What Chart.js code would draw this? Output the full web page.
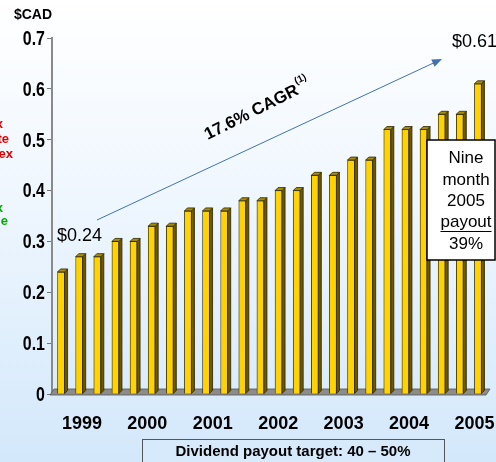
<!DOCTYPE html>
<html>
<head>
<meta charset="utf-8">
<script src="https://cdn.jsdelivr.net/npm/chart.js@4/dist/chart.umd.min.js"></script>
<style>
  html, body { margin: 0; padding: 0; }
  body { width: 496px; height: 462px; overflow: hidden;
         background: linear-gradient(#ffffff 0%, #eef6fe 45%, #d3e8fb 100%); }
  #wrap { position: relative; width: 496px; height: 462px; }
</style>
</head>
<body>
<div id="wrap"><canvas id="chart"></canvas></div>
<script>
// quarterly dividends, $CAD
const quarters = ["Q1 99", "Q2 99", "Q3 99", "Q4 99", "Q1 00", "Q2 00", "Q3 00", "Q4 00",
  "Q1 01", "Q2 01", "Q3 01", "Q4 01", "Q1 02", "Q2 02", "Q3 02", "Q4 02",
  "Q1 03", "Q2 03", "Q3 03", "Q4 03", "Q1 04", "Q2 04", "Q3 04", "Q4 05"];
const dividends = [0.24, 0.27, 0.27, 0.30, 0.30, 0.33, 0.33, 0.36, 0.36, 0.36, 0.38, 0.38,
  0.40, 0.40, 0.43, 0.43, 0.46, 0.46, 0.52, 0.52, 0.52, 0.55, 0.55, 0.61];
const years = ["1999", "2000", "2001", "2002", "2003", "2004", "2005"];
const yTicks = [0, 0.1, 0.2, 0.3, 0.4, 0.5, 0.6, 0.7];

const SANS = "'Liberation Sans', Arial, sans-serif";
const DEPTH = 3;

// floor under the bars + side/top faces of each bar
const bars3d = {
  id: "bars3d",
  beforeDatasetsDraw(chart) {
    const { ctx, chartArea: a } = chart;
    const base = chart.scales.y.getPixelForValue(0);
    ctx.save();
    ctx.beginPath();
    ctx.moveTo(a.left - 2, base + 1);
    ctx.lineTo(a.right - 1, base + 1);
    ctx.lineTo(a.right + 3, base - 5);
    ctx.lineTo(a.left + 2, base - 5);
    ctx.closePath();
    ctx.fillStyle = "#8c8c8c";
    ctx.fill();
    ctx.strokeStyle = "#555";
    ctx.lineWidth = 0.8;
    ctx.stroke();
    ctx.restore();
  },
  afterDatasetsDraw(chart) {
    const { ctx } = chart;
    ctx.save();
    ctx.lineWidth = 0.8;
    ctx.strokeStyle = "#2b2500";
    chart.getDatasetMeta(0).data.forEach(function (bar) {
      const l = bar.x - bar.width / 2, r = bar.x + bar.width / 2;
      // side
      ctx.beginPath();
      ctx.moveTo(r, bar.y);
      ctx.lineTo(r + DEPTH, bar.y - DEPTH);
      ctx.lineTo(r + DEPTH, bar.base - DEPTH);
      ctx.lineTo(r, bar.base);
      ctx.closePath();
      ctx.fillStyle = "#6b5800";
      ctx.fill();
      ctx.stroke();
      // top
      ctx.beginPath();
      ctx.moveTo(l, bar.y);
      ctx.lineTo(l + DEPTH, bar.y - DEPTH);
      ctx.lineTo(r + DEPTH, bar.y - DEPTH);
      ctx.lineTo(r, bar.y);
      ctx.closePath();
      ctx.fillStyle = "#a88d00";
      ctx.fill();
      ctx.stroke();
    });
    ctx.restore();
  },
};

// condensed value labels on the y axis
const yLabels = {
  id: "yLabels",
  afterDraw(chart) {
    const { ctx } = chart;
    const y = chart.scales.y;
    ctx.save();
    ctx.fillStyle = "#000";
    ctx.font = "bold 21px " + SANS;
    ctx.textAlign = "right";
    ctx.textBaseline = "middle";
    y.ticks.forEach(function (t) {
      const py = y.getPixelForValue(t.value);
      ctx.save();
      ctx.translate(y.right - 7, py + 1);
      ctx.scale(0.76, 1);
      ctx.fillText(t.value === 0 ? "0" : t.value.toFixed(1), 0, 0);
      ctx.restore();
    });
    ctx.restore();
  },
};

// text, arrow and boxes around the plot
const notes = {
  id: "notes",
  afterDraw(chart) {
    const ctx = chart.ctx;
    const first = dividends[0], last = dividends[dividends.length - 1];
    ctx.save();

    ctx.fillStyle = "#000";
    ctx.font = "bold 14px " + SANS;
    ctx.textAlign = "center";
    ctx.textBaseline = "middle";
    ctx.fillText("$CAD", 33, 15);

    // clipped side notes
    ctx.font = "bold 13px " + SANS;
    ctx.textAlign = "right";
    ctx.fillStyle = "#e00000";
    ctx.fillText("Index", 3, 124);
    ctx.fillText("Composite", 9, 139);
    ctx.fillText("Index", 13, 154);
    ctx.fillStyle = "#00a800";
    ctx.fillText("Index", 3, 208);
    ctx.fillText("Average", 8, 221);

    // growth arrow
    const x0 = 97, y0 = 220, x1 = 442, y1 = 59;
    const ang = Math.atan2(y1 - y0, x1 - x0);
    ctx.strokeStyle = "#3f73b0";
    ctx.fillStyle = "#3f73b0";
    ctx.lineWidth = 1;
    ctx.beginPath();
    ctx.moveTo(x0, y0);
    ctx.lineTo(x1 - 8 * Math.cos(ang), y1 - 8 * Math.sin(ang));
    ctx.stroke();
    ctx.beginPath();
    ctx.moveTo(x1, y1);
    ctx.lineTo(x1 - 10 * Math.cos(ang) + 4 * Math.sin(ang), y1 - 10 * Math.sin(ang) - 4 * Math.cos(ang));
    ctx.lineTo(x1 - 10 * Math.cos(ang) - 4 * Math.sin(ang), y1 - 10 * Math.sin(ang) + 4 * Math.cos(ang));
    ctx.closePath();
    ctx.fill();

    ctx.fillStyle = "#000";
    ctx.font = "18px " + SANS;
    ctx.textAlign = "left";
    ctx.fillText("$" + first.toFixed(2), 57, 236);
    ctx.fillText("$" + last.toFixed(2), 452, 42);

    // CAGR label
    ctx.save();
    ctx.translate(257, 110);
    ctx.rotate(ang - 0.03);
    ctx.font = "bold 17px " + SANS;
    const main = "17.6% CAGR";
    const w = ctx.measureText(main).width;
    ctx.textAlign = "left";
    ctx.fillText(main, -w / 2 - 6, 0);
    ctx.font = "bold 10px " + SANS;
    ctx.fillText("(1)", w / 2 - 5, -8);
    ctx.restore();

    // nine month box
    ctx.fillStyle = "#fff";
    ctx.fillRect(427, 140, 68, 120);
    ctx.strokeStyle = "#000";
    ctx.lineWidth = 1.5;
    ctx.strokeRect(427, 140, 68, 120);
    ctx.fillStyle = "#000";
    ctx.font = "17px " + SANS;
    ctx.textAlign = "center";
    const lines = ["Nine", "month", "2005", "payout", "39%"];
    const ys = [158, 180, 201, 222, 244];
    lines.forEach(function (t, i) { ctx.fillText(t, 466, ys[i]); });
    const pw = ctx.measureText("payout").width;
    ctx.lineWidth = 1;
    ctx.beginPath();
    ctx.moveTo(466 - pw / 2, 231.5);
    ctx.lineTo(466 + pw / 2, 231.5);
    ctx.stroke();

    // target box
    ctx.fillStyle = "#d6eafb";
    ctx.fillRect(142, 439, 302, 30);
    ctx.strokeStyle = "#555";
    ctx.strokeRect(142.5, 439.5, 302, 30);
    ctx.fillStyle = "#000";
    ctx.font = "bold 15px " + SANS;
    ctx.fillText("Dividend payout target: 40 \u2013 50%", 293, 452);

    ctx.restore();
  },
};

new Chart(document.getElementById("chart"), {
  type: "bar",
  data: {
    labels: quarters,
    datasets: [{
      data: dividends,
      backgroundColor: "#ffd300",
      borderColor: "#2b2500",
      borderWidth: 0.8,
      barThickness: 7,
    }],
  },
  options: {
    responsive: true,
    maintainAspectRatio: false,
    animation: false,
    layout: { padding: { top: 38, right: 9, left: 0, bottom: 0 } },
    plugins: { legend: { display: false }, tooltip: { enabled: false } },
    scales: {
      x: { display: false, offset: true },
      x2: {
        type: "linear",
        position: "bottom",
        offset: false,
        min: 0,
        max: 24,
        afterBuildTicks: function (s) {
          s.ticks = years.map(function (_, i) { return { value: 1.65 + i * 3.61 }; });
        },
        afterFit: function (s) {
          s.height = 68;
          s.paddingLeft = 0;
          s.paddingRight = 0;
        },
        grid: { display: false, drawTicks: false, offset: false },
        border: { display: false },
        ticks: {
          autoSkip: false,
          maxRotation: 0,
          padding: 19,
          color: "#000",
          font: { family: SANS, size: 18, weight: "bold" },
          callback: function (v, i) { return years[i]; },
        },
      },
      y: {
        min: 0,
        max: 0.7,
        afterBuildTicks: function (s) {
          s.ticks = yTicks.map(function (v) { return { value: v }; });
        },
        afterFit: function (s) { s.width = 52; },
        grid: { drawOnChartArea: false, tickLength: 5, color: "#777" },
        border: { color: "#8a8a8a", width: 2 },
        ticks: { display: false },
      },
    },
  },
  plugins: [bars3d, yLabels, notes],
});
</script>
</body>
</html>
